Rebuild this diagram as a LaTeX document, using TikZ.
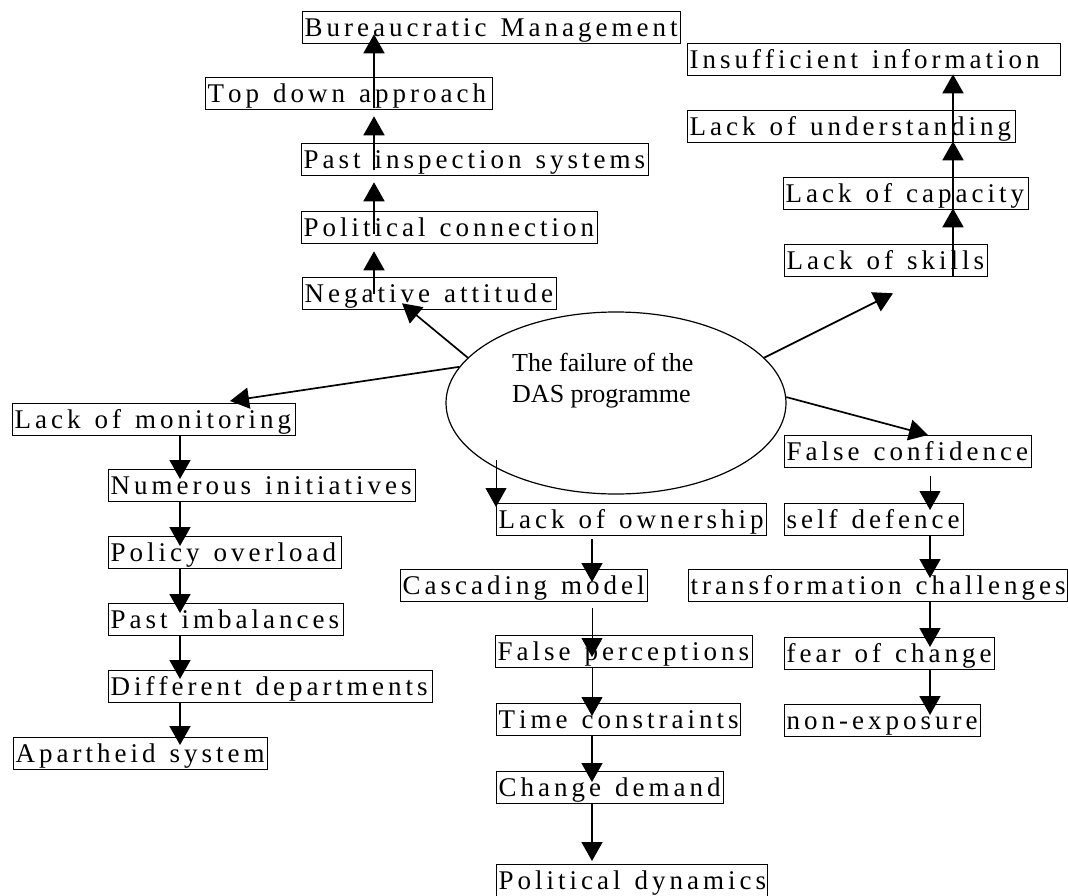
\documentclass[tikz,border=0pt]{standalone}
\usepackage{fontspec}
\setmainfont{Liberation Serif}
\usetikzlibrary{shapes.geometric,arrows.meta,calc}

% tracked lettering used inside the boxes: a kern after every letter,
% a wider fixed gap between words
\makeatletter
\newcommand\boxtext[1]{\mbox{\bt@words#1 \@nil}}
\def\bt@words#1 #2\@nil{\bt@letters#1\@nil
  \ifx\relax#2\relax\else\hspace*{14pt}\bt@words#2\@nil\fi}
\def\bt@letters#1#2\@nil{#1%
  \ifx\relax#2\relax\else\kern4pt\bt@letters#2\@nil\fi}
\makeatother

\begin{document}
\begin{tikzpicture}[x=1pt,y=-1pt,
  cbox/.style={draw, line width=1.3pt, anchor=north west, inner xsep=2pt,
    inner ysep=3pt, text height=22pt, text depth=4pt, align=left,
    font=\fontsize{27}{30}\selectfont},
  arr/.style={line width=1.7pt, -{Triangle[length=19pt,width=21pt]}},
  thinarr/.style={arr, line width=1pt}]
\useasboundingbox (0,0) rectangle (1068,896);

% central ellipse
\node[ellipse, draw, line width=1.2pt, minimum width=340pt, minimum height=182pt,
  inner sep=0pt] (fail) at (616,403) {};
\node[anchor=north west, align=left, inner sep=0pt,
  font=\fontsize{26}{31}\selectfont] (failtxt) at (512,353)
  {The failure of the\\DAS programme};

% column x positions
\coordinate (cTL) at (374,0);
\coordinate (cTR) at (953,0);
\coordinate (cL) at (180,0);
\coordinate (cM) at (592,0);
\coordinate (cR) at (930,0);

% upper left chain
\node[cbox, text width=374pt] (bm)  at (302,11)  {\boxtext{Bureaucratic Management}};
\node[cbox, text width=283pt] (tda) at (205,77)  {\boxtext{Top down approach}};
\node[cbox, text width=343pt] (pis) at (301,143) {\boxtext{Past inspection systems}};
\node[cbox, text width=292pt] (pc)  at (301,211) {\boxtext{Political connection}};
\node[cbox, text width=250pt] (na)  at (302,277) {\boxtext{Negative attitude}};

% upper right chain
\node[cbox, text width=369pt] (ii) at (687,43)  {\boxtext{Insufficient information}};
\node[cbox, text width=324pt] (lu) at (687,110) {\boxtext{Lack of understanding}};
\node[cbox, text width=241pt] (lc) at (783,177) {\boxtext{Lack of capacity}};
\node[cbox, text width=199pt] (ls) at (784,244) {\boxtext{Lack of skills}};

% left chain
\node[cbox, text width=279pt] (lm)  at (12,403)  {\boxtext{Lack of monitoring}};
\node[cbox, text width=303pt] (ni)  at (108,469) {\boxtext{Numerous initiatives}};
\node[cbox, text width=229pt] (po)  at (108,536) {\boxtext{Policy overload}};
\node[cbox, text width=231pt] (pim) at (108,603) {\boxtext{Past imbalances}};
\node[cbox, text width=320pt] (dd)  at (108,670) {\boxtext{Different departments}};
\node[cbox, text width=250pt] (as)  at (13,737)  {\boxtext{Apartheid system}};

% middle chain
\node[cbox, text width=266pt] (lo) at (496,503) {\boxtext{Lack of ownership}};
\node[cbox, text width=243pt] (cm) at (400,569) {\boxtext{Cascading model}};
\node[cbox, text width=253pt] (fp) at (495,635) {\boxtext{False perceptions}};
\node[cbox, text width=240pt] (tc) at (496,703) {\boxtext{Time constraints}};
\node[cbox, text width=223pt] (cd) at (496,771) {\boxtext{Change demand}};
\node[cbox, text width=267pt] (pd) at (496,864) {\boxtext{Political dynamics}};

% right chain
\node[cbox, text width=243pt] (fc)  at (784,435) {\boxtext{False confidence}};
\node[cbox, text width=175pt] (sd)  at (784,503) {\boxtext{self defence}};
\node[cbox, text width=375pt] (tch) at (688,569) {\boxtext{transformation challenges}};
\node[cbox, text width=206pt] (foc) at (784,637) {\boxtext{fear of change}};
\node[cbox, text width=192pt] (ne)  at (784,704) {\boxtext{non-exposure}};

% arrows leaving the ellipse
\draw[arr] (fail.163) -- ($(na.south west)+(100,-7)$);
\draw[arr] (fail.167) -- ($(lm.north west)+(218,-2)$);
\draw[thinarr] ($(lo.north west)+(0,-43)$) -- ($(lo.north west)+(0,4)$);
\draw[arr] (fail.2) -- ($(fc.north west)+(144,0)$);
\draw[arr] (fail.17) -- ($(ls.south west)+(109,16)$);

% upper left chain arrows
\draw[arr] (na.center -| cTL)  -- ($(pc.south -| cTL)+(0,7)$);
\draw[arr] ($(pc.center -| cTL)+(0,6)$) -- ($(pis.south -| cTL)+(0,6)$);
\draw[arr] ($(pis.south -| cTL)+(0,-6)$) -- ($(tda.south -| cTL)+(0,6)$);
\draw[arr] ($(tda.south -| cTL)+(0,-2)$) -- ($(bm.south -| cTL)+(0,-10)$);

% upper right chain arrows
\draw[arr] (ls.south -| cTR) -- ($(lc.south -| cTR)+(0,-2)$);
\draw[arr] (lc.south -| cTR) -- ($(lu.south -| cTR)+(0,-2)$);
\draw[arr] (lu.south -| cTR) -- ($(ii.south -| cTR)+(0,-2)$);

% left chain arrows
\draw[arr] (lm.south -| cL)  -- ($(ni.north -| cL)+(0,10)$);
\draw[arr] (ni.south -| cL)  -- ($(po.north -| cL)+(0,10)$);
\draw[arr] (po.south -| cL)  -- ($(pim.north -| cL)+(0,10)$);
\draw[arr] (pim.south -| cL) -- ($(dd.north -| cL)+(0,9)$);
\draw[arr] (dd.south -| cL)  -- ($(as.north -| cL)+(0,8)$);

% middle chain arrows
\draw[arr] ($(lo.south -| cM)+(0,3)$) -- ($(cm.north -| cM)+(0,13)$);
\draw[thinarr] ($(cm.south -| cM)+(0,6)$) -- ($(fp.north -| cM)+(0,22)$);
\draw[thinarr] (fp.south -| cM) -- ($(tc.north -| cM)+(0,13)$);
\draw[arr] (tc.south -| cM) -- ($(cd.north -| cM)+(0,11)$);
\draw[arr] (cd.south -| cM) -- ($(pd.north -| cM)+(0,-3)$);

% right chain arrows
\draw[thinarr] ($(fc.south -| cR)+(0,8)$) -- ($(sd.north -| cR)+(0,7)$);
\draw[arr] (sd.south -| cR)  -- ($(tch.north -| cR)+(0,9)$);
\draw[arr] (tch.south -| cR) -- ($(foc.north -| cR)+(0,10)$);
\draw[arr] (foc.south -| cR) -- ($(ne.north -| cR)+(0,11)$);
\end{tikzpicture}
\end{document}
